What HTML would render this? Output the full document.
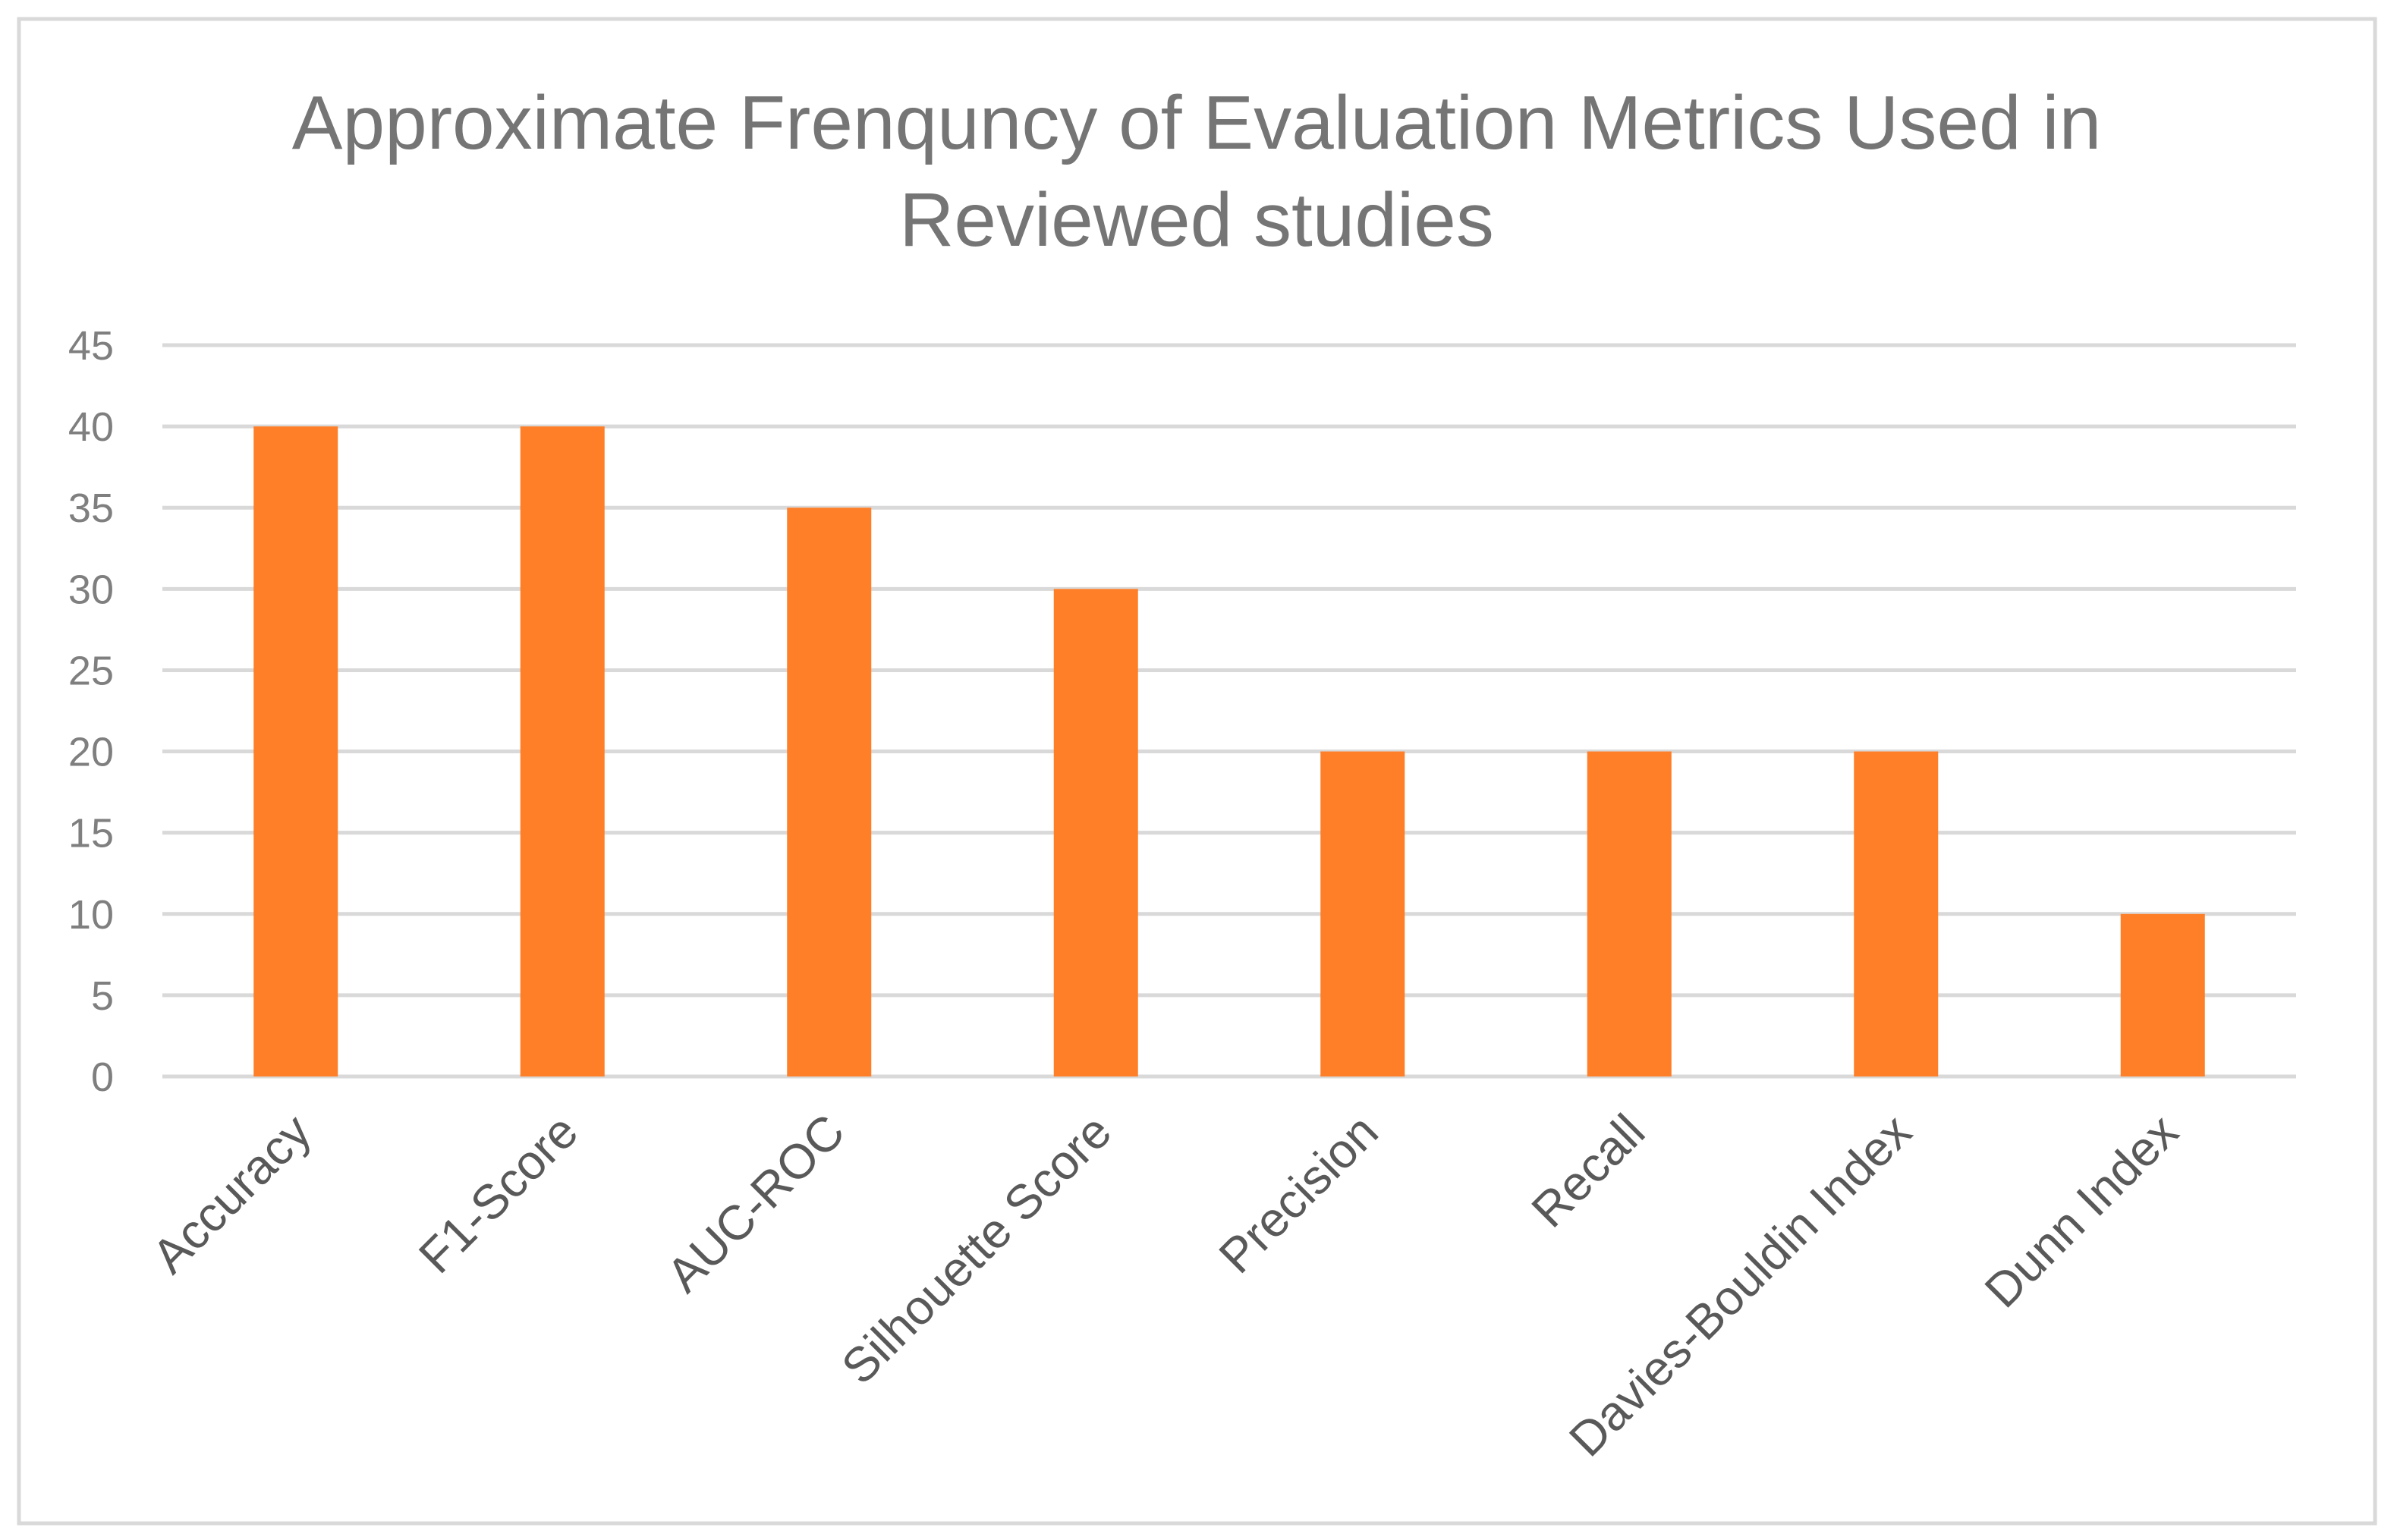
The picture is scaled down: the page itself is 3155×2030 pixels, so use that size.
<!DOCTYPE html>
<html><head><meta charset="utf-8"><style>
html,body{margin:0;padding:0;background:#fff;}
svg{display:block;font-family:"Liberation Sans",sans-serif;}
</style></head><body>
<svg id="chart" width="3155" height="2030" viewBox="0 0 3155 2030">
<rect x="25" y="25" width="3105" height="1983" fill="#fff" stroke="#d9d9d9" stroke-width="5"/>
<text x="1577" y="0" text-anchor="middle" fill="#757575" font-size="100"><tspan x="1577" y="196">Approximate Frenquncy of Evaluation Metrics Used in</tspan><tspan x="1577" y="324">Reviewed studies</tspan></text>
<g id="grid"></g><g id="bars"></g><g id="yticks"></g><g id="xlabels"></g>
</svg>
<script>
const categories = ["Accuracy","F1-Score","AUC-ROC","Silhouette Score","Precision","Recall","Davies-Bouldin Index","Dunn Index"];
const values = [40,40,35,30,20,20,20,10];
const yTicks = [0,5,10,15,20,25,30,35,40,45];
const NS="http://www.w3.org/2000/svg";
const L=214,R=3026,T=455,B=1419,yMax=45;
const y=v=>B-(v/yMax)*(B-T);
const step=(R-L)/categories.length;
const xc=i=>L+step*(i+0.5);
const bw=111;
function mk(tag,attrs,parent){const e=document.createElementNS(NS,tag);for(const k in attrs)e.setAttribute(k,attrs[k]);document.getElementById(parent).appendChild(e);return e;}
yTicks.forEach(t=>{
  const g=mk("line",{x1:L,x2:R,y1:y(t),y2:y(t),stroke:"#d9d9d9","stroke-width":5},"grid");
  
  
  const tx=mk("text",{x:150,y:y(t)+19,"text-anchor":"end","font-size":54,fill:"#7f7f7f"},"yticks");
  tx.textContent=t;
  
  
});
values.forEach((v,i)=>{
  const r=mk("rect",{x:xc(i)-bw/2,y:y(v),width:bw,height:B-y(v),fill:"#fe7f27"},"bars");
  
  
  const ex=xc(i)+24, ey=1496;
  const tx=mk("text",{x:ex,y:ey,"text-anchor":"end","font-size":64,fill:"#595959",transform:`rotate(-45 ${ex} ${ey})`},"xlabels");
  tx.textContent=categories[i];
  
  
});
</script>
</body></html>
